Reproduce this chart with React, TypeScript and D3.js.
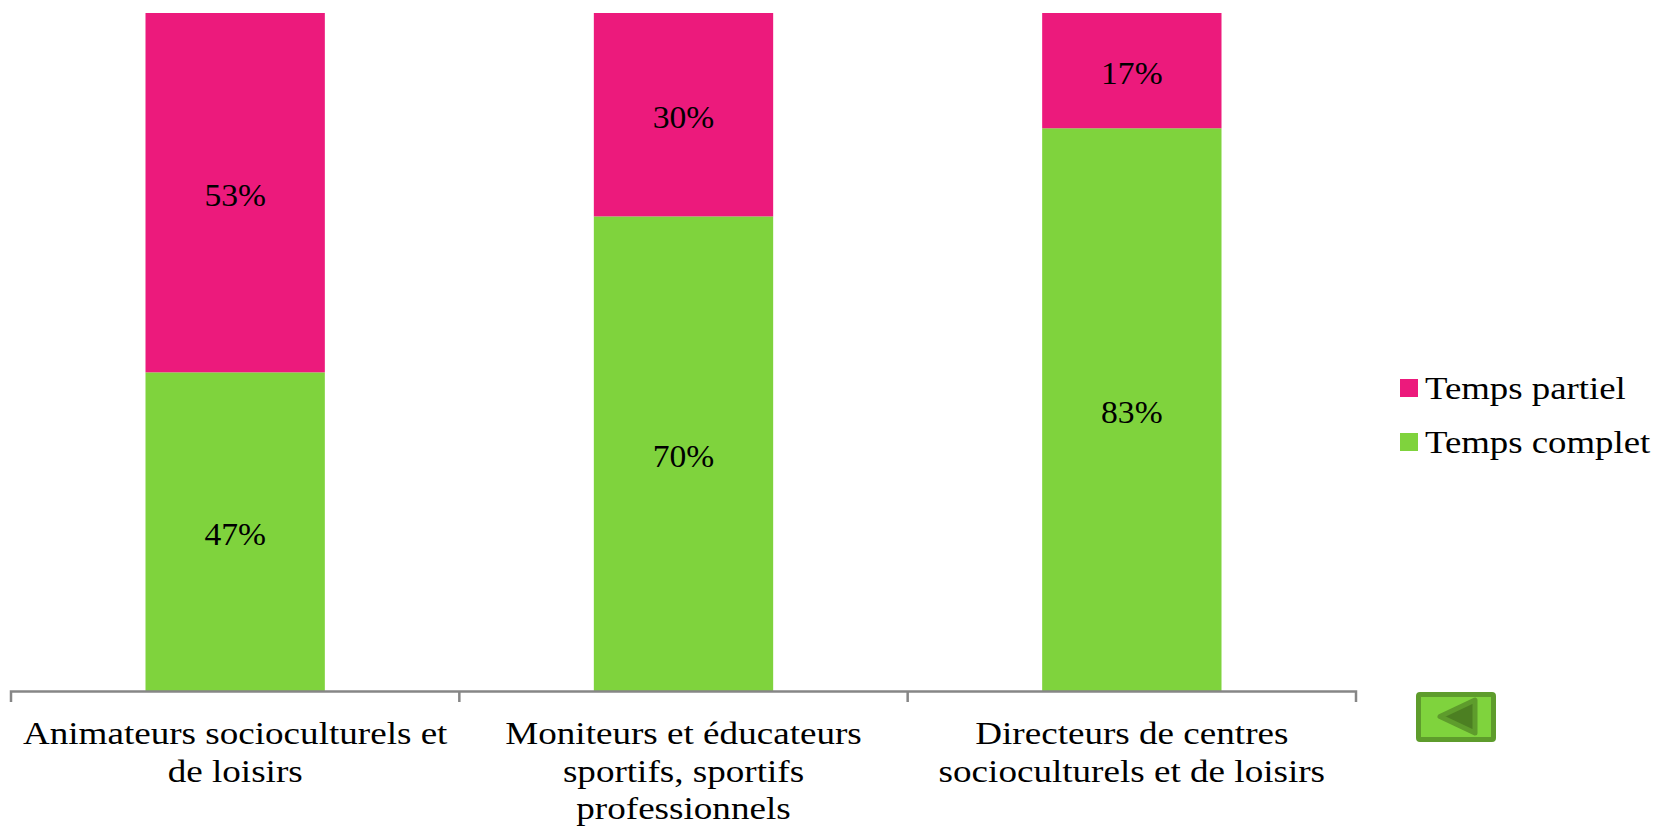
import React from "react";
import * as d3 from "d3";

const categories = ["Animateurs socioculturels et de loisirs", "Moniteurs et éducateurs sportifs, sportifs professionnels", "Directeurs de centres socioculturels et de loisirs"];
const categoryLines = [
  ["Animateurs socioculturels et", "de loisirs"],
  ["Moniteurs et éducateurs", "sportifs, sportifs", "professionnels"],
  ["Directeurs de centres", "socioculturels et de loisirs"],
];
const complet = [47, 70, 83];
const partiel = [53, 30, 17];
const legendItems = [
  { label: "Temps partiel", color: "#EC1A7C" },
  { label: "Temps complet", color: "#7FD33D" },
];
const FONT = "'Liberation Serif', serif";
const FS = 32;

function T({ x, y, sx = 1.16, anchor = "middle", children }: { x: number; y: number; sx?: number; anchor?: string; children: React.ReactNode }) {
  return (
    <text transform={`translate(${x},${y}) scale(${sx},1)`} textAnchor={anchor} fontSize={FS} fill="#000">
      {children}
    </text>
  );
}

export default function App() {
  const x = d3.scaleBand<string>().domain(categories).range([11, 1356]).paddingInner(0.6).paddingOuter(0.3);
  const y = d3.scaleLinear().domain([0, 100]).range([691, 13]);
  const step = x.step();
  const ticks = d3.range(0, categories.length + 1).map((i) => 11 + i * step);
  return (
    <svg width={1654} height={826} style={{ position: "absolute", left: 0, top: 0, background: "#fff" }} fontFamily={FONT}>
      {categories.map((c, i) => {
        const bx = x(c)!;
        const bw = x.bandwidth();
        return (
          <g key={c}>
            <rect x={bx} y={y(complet[i])} width={bw} height={y(0) - y(complet[i])} fill="#7FD33D" />
            <rect x={bx} y={y(complet[i] + partiel[i])} width={bw} height={y(complet[i]) - y(complet[i] + partiel[i])} fill="#EC1A7C" />
            <T x={bx + bw / 2} y={y(complet[i] / 2) + 13} sx={1.05}>{complet[i]}%</T>
            <T x={bx + bw / 2} y={y(complet[i] + partiel[i] / 2) + 13} sx={1.05}>{partiel[i]}%</T>
            {categoryLines[i].map((l, j) => (
              <T key={l} x={bx + bw / 2} y={744 + j * 37.5}>{l}</T>
            ))}
          </g>
        );
      })}
      <path d={`M${ticks[0]},702V691.5H${ticks[3]}V702`} fill="none" stroke="#868686" strokeWidth={2.5} />
      {ticks.slice(1, 3).map((t) => (
        <line key={t} x1={t} x2={t} y1={691.5} y2={702} stroke="#868686" strokeWidth={2.5} />
      ))}
      {legendItems.map((d, i) => (
        <g key={d.label}>
          <rect x={1400} y={379 + i * 54} width={18} height={18} fill={d.color} />
          <T x={1425} y={399 + i * 54} anchor="start" sx={1.15}>{d.label}</T>
        </g>
      ))}
      <rect x={1418.5} y={694.5} width={75} height={45} rx={1.5} fill="#7FD33D" stroke="#5E9C2C" strokeWidth={5} />
      <path d="M1475,700V733L1440,716.5Z" fill="#4C7F22" stroke="#5E9C2C" strokeWidth={5} strokeLinejoin="round" />
    </svg>
  );
}
